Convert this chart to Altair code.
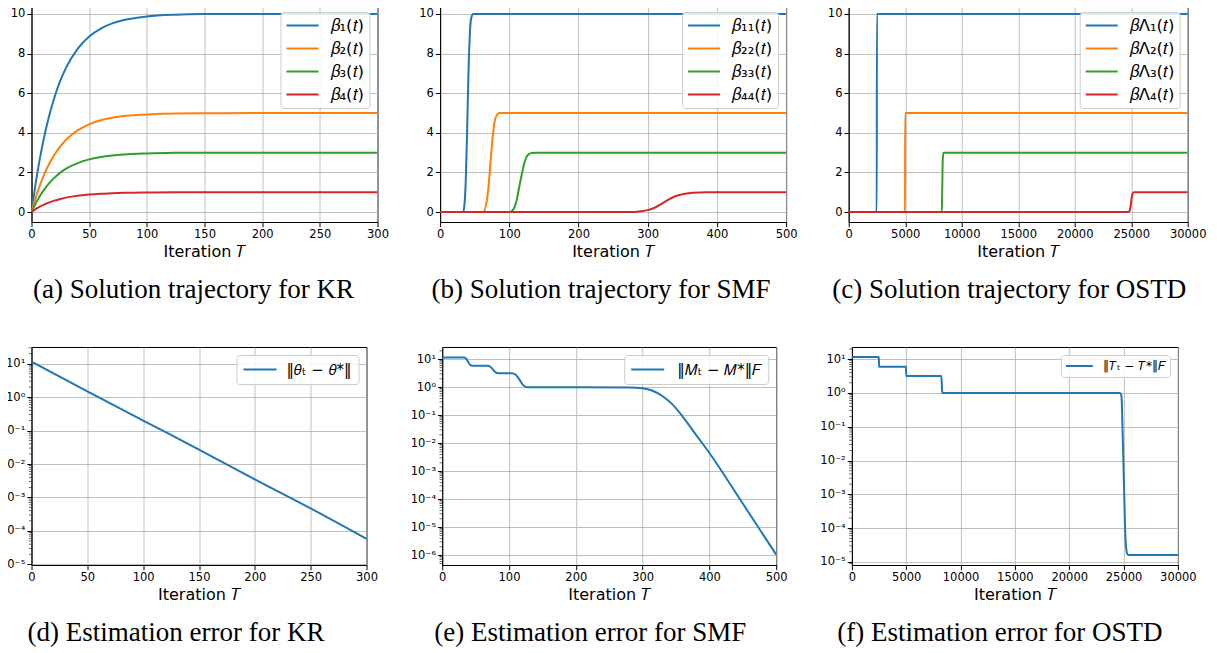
import altair as alt
import pandas as pd

BLUE, ORANGE, GREEN, RED = "#1f77b4", "#ff7f0e", "#2ca02c", "#d62728"

# ---------------- (a) Solution trajectory for KR ----------------
kr_T = [0, 5, 10, 15, 20, 25, 30, 40, 50, 60, 70, 80, 100, 125, 150, 200, 300]
kr_b1 = [0, 1.95, 3.53, 4.79, 5.81, 6.63, 7.29, 8.24, 8.86, 9.26, 9.52, 9.69, 9.87, 9.96, 9.99, 10.0, 10.0]
kr_b2 = [0, 0.98, 1.77, 2.40, 2.91, 3.32, 3.65, 4.12, 4.43, 4.63, 4.76, 4.85, 4.93, 4.98, 4.99, 5.0, 5.0]
kr_b3 = [0, 0.59, 1.06, 1.44, 1.74, 1.99, 2.19, 2.47, 2.66, 2.78, 2.86, 2.91, 2.96, 2.99, 3.0, 3.0, 3.0]
kr_b4 = [0, 0.20, 0.35, 0.48, 0.58, 0.66, 0.73, 0.82, 0.89, 0.93, 0.95, 0.97, 0.99, 1.0, 1.0, 1.0, 1.0]

# ---------------- (b) Solution trajectory for SMF ----------------
smf_T1 = [0, 33, 35, 37, 39, 41, 43, 45, 48, 500]
smf_b1 = [0, 0, 0.3, 1.5, 4.0, 7.0, 9.0, 9.8, 10, 10]
smf_T2 = [0, 62, 66, 70, 73, 76, 79, 82, 86, 500]
smf_b2 = [0, 0, 0.3, 1.3, 2.6, 3.8, 4.6, 4.9, 5.0, 5.0]
smf_T3 = [0, 100, 105, 110, 114, 118, 122, 126, 132, 140, 500]
smf_b3 = [0, 0, 0.1, 0.5, 1.2, 1.9, 2.5, 2.85, 2.98, 3.0, 3.0]
smf_T4 = [0, 260, 280, 290, 300, 310, 320, 330, 340, 350, 365, 385, 500]
smf_b4 = [0, 0, 0.01, 0.04, 0.1, 0.22, 0.42, 0.63, 0.8, 0.9, 0.97, 1.0, 1.0]

# ---------------- (c) Solution trajectory for OSTD ----------------
ostd_T1 = [0, 2480, 2500, 30000]
ostd_b1 = [0, 0, 10, 10]
ostd_T2 = [0, 4980, 5000, 30000]
ostd_b2 = [0, 0, 5, 5]
ostd_T3 = [0, 8240, 8280, 8320, 8380, 30000]
ostd_b3 = [0, 0, 1.2, 2.6, 3.0, 3.0]
ostd_T4 = [0, 24700, 24850, 24950, 25050, 25150, 25250, 30000]
ostd_b4 = [0, 0, 0.05, 0.3, 0.75, 0.97, 1.0, 1.0]

# ---------------- (d) Estimation error for KR ----------------
kre_T = [0, 50, 100, 150, 200, 250, 300]
kre_err = [11.6, 1.5, 0.2, 0.027, 0.0035, 0.00047, 0.000058]

# ---------------- (e) Estimation error for SMF ----------------
smfe_T = [0, 33, 36, 39, 42, 45, 68, 72, 76, 80, 84, 104, 110, 115, 120, 125, 130,
          280, 300, 315, 330, 345, 360, 380, 400, 450, 500]
smfe_err = [11.62, 11.6, 10.5, 8.0, 6.2, 5.92, 5.9, 5.4, 4.3, 3.4, 3.17, 3.15, 2.8, 2.0, 1.3, 1.03, 1.0,
            0.99, 0.92, 0.75, 0.48, 0.24, 0.09, 0.02, 0.0045, 0.00007, 0.00000105]

# ---------------- (f) Estimation error for OSTD ----------------
ostde_T = [0, 2480, 2500, 4980, 5000, 8230, 8300, 8350, 24600, 24750, 24820, 24900,
           24980, 25060, 25140, 25220, 25350, 25500, 30000]
ostde_err = [11.62, 11.62, 5.92, 5.92, 3.16, 3.16, 1.2, 1.0, 1.0, 0.95, 0.7, 0.1,
             0.01, 0.001, 0.0001, 0.00003, 0.000017, 0.000016, 0.000016]

# tick labels
lin_ticks = [0, 2, 4, 6, 8, 10]
kr_xticks = [0, 50, 100, 150, 200, 250, 300]
smf_xticks = [0, 100, 200, 300, 400, 500]
ostd_xticks = [0, 5000, 10000, 15000, 20000, 25000, 30000]
log_major_6 = [1e-6, 1e-5, 1e-4, 1e-3, 1e-2, 1e-1, 1, 10]
log_major_5 = [1e-5, 1e-4, 1e-3, 1e-2, 1e-1, 1, 10]
minor_mantissa = [2, 3, 4, 5, 6, 7, 8, 9]
minor_exponents = [-7, -6, -5, -4, -3, -2, -1, 0, 1]

LOG_LABEL = ("'10' + (datum.value < 0.5 ? '\u207b' : '') + "
             "['\u2070','\u00b9','\u00b2','\u00b3','\u2074','\u2075','\u2076']"
             "[abs(round(log(datum.value)/LN10))]")


def frame(series):
    rows = []
    for name, ts, vs in series:
        for t, v in zip(ts, vs):
            rows.append({"T": t, "v": v, "s": name})
    return pd.DataFrame(rows)


def panel(series, colors, xdom, xticks, ydom, yticks, log, caption, dx, width,
          lfont=16.5, llen=32, lpad=5, loff=11, lclip=17, lrow=6):
    df = frame(series)
    names = [s[0] for s in series]
    if log:
        yscale = alt.Scale(type="log", domain=ydom, nice=False)
        yaxis = alt.Axis(values=yticks, labelExpr=LOG_LABEL, title=None)
    else:
        yscale = alt.Scale(domain=ydom, nice=False, zero=False)
        yaxis = alt.Axis(values=yticks, format="d", title=None)
    line = alt.Chart(df).mark_line(strokeWidth=2, clip=True, interpolate="monotone").encode(
        x=alt.X("T:Q", scale=alt.Scale(domain=xdom, nice=False, zero=False),
                axis=alt.Axis(values=xticks, format="d", title="Iteration \U0001D447")),
        y=alt.Y("v:Q", scale=yscale, axis=yaxis),
        color=alt.Color("s:N", scale=alt.Scale(domain=names, range=colors),
                        legend=alt.Legend(title=None, orient="top-right", offset=8,
                                          fillColor="rgba(255,255,255,0.85)", strokeColor="#cccccc",
                                          cornerRadius=3, padding=lpad, symbolType="stroke",
                                          symbolStrokeWidth=2, symbolSize=llen * llen,
                                          clipHeight=lclip, rowPadding=lrow, labelOffset=loff,
                                          labelFontSize=lfont, labelFont="DejaVu Sans",
                                          labelColor="black")),
    )
    layers = [line]
    if log:
        lo, hi = ydom
        minors = [m * 10.0 ** e for e in minor_exponents for m in minor_mantissa
                  if lo <= m * 10.0 ** e <= hi]
        mdf = pd.DataFrame({"v": minors})
        layers.append(alt.Chart(mdf).mark_tick(color="black", thickness=0.8, size=2.7).encode(
            x=alt.value(-1.35),
            y=alt.Y("v:Q", scale=yscale, axis=yaxis)))
    return alt.layer(*layers).properties(
        width=width, height=218,
        title=alt.TitleParams(text=caption, orient="bottom", anchor="middle", dx=dx,
                              font="Liberation Serif", fontSize=27, fontWeight="normal",
                              color="black", offset=18),
    )


lin_dom = [-0.5, 10.5]

pa = panel([("\U0001D6FD\u2081(\U0001D461)", kr_T, kr_b1), ("\U0001D6FD\u2082(\U0001D461)", kr_T, kr_b2),
            ("\U0001D6FD\u2083(\U0001D461)", kr_T, kr_b3), ("\U0001D6FD\u2084(\U0001D461)", kr_T, kr_b4)],
           [BLUE, ORANGE, GREEN, RED], [0, 300], kr_xticks,
           lin_dom, lin_ticks, False, "(a) Solution trajectory for KR", -11, 346)
pb = panel([("\U0001D6FD\u2081\u2081(\U0001D461)", smf_T1, smf_b1), ("\U0001D6FD\u2082\u2082(\U0001D461)", smf_T2, smf_b2),
            ("\U0001D6FD\u2083\u2083(\U0001D461)", smf_T3, smf_b3), ("\U0001D6FD\u2084\u2084(\U0001D461)", smf_T4, smf_b4)],
           [BLUE, ORANGE, GREEN, RED], [0, 500], smf_xticks,
           lin_dom, lin_ticks, False, "(b) Solution trajectory for SMF", -12, 346)
pc = panel([("\U0001D6FD\u039b\u2081(\U0001D461)", ostd_T1, ostd_b1), ("\U0001D6FD\u039b\u2082(\U0001D461)", ostd_T2, ostd_b2),
            ("\U0001D6FD\u039b\u2083(\U0001D461)", ostd_T3, ostd_b3), ("\U0001D6FD\u039b\u2084(\U0001D461)", ostd_T4, ostd_b4)],
           [BLUE, ORANGE, GREEN, RED], [0, 30000], ostd_xticks,
           lin_dom, lin_ticks, False, "(c) Solution trajectory for OSTD", -9, 339)

pd_ = panel([("\u2016\U0001D703\u209c \u2212 \U0001D703*\u2016", kre_T, kre_err)], [BLUE],
            [0, 300], kr_xticks, [10 ** -5.02, 10 ** 1.5], log_major_5, True,
            "(d) Estimation error for KR", -23, 335, lfont=15, llen=33, lpad=6, loff=9, lclip=17, lrow=0)
pe = panel([("\u2016\U0001D440\u209c \u2212 \U0001D440*\u2016\U0001D439", smfe_T, smfe_err)], [BLUE],
           [0, 500], smf_xticks, [10 ** -6.35, 10 ** 1.44], log_major_6, True,
           "(e) Estimation error for SMF", -19, 334, lfont=15, llen=33, lpad=6, loff=12, lclip=17, lrow=0)
pf = panel([("\u2016\U0001D447\u209c \u2212 \U0001D447*\u2016\U0001D439", ostde_T, ostde_err)], [BLUE],
           [0, 30000], ostd_xticks, [10 ** -5.09, 10 ** 1.36], log_major_5, True,
           "(f) Estimation error for OSTD", -15, 326, lfont=12, llen=27, lpad=4, loff=9, lclip=14, lrow=0)

top = alt.hconcat(pa, pb, pc, spacing=62.6, bounds="flush").resolve_scale(
    color="independent").resolve_legend(color="independent")
bottom = alt.hconcat(pd_, pe, pf, spacing=75.7, bounds="flush").resolve_scale(
    color="independent").resolve_legend(color="independent")

chart = alt.vconcat(top, bottom, spacing=343, bounds="flush").resolve_scale(
    color="independent").resolve_legend(color="independent").properties(
    padding={"left": -9.5, "top": -5, "right": 0, "bottom": 0},
    background="white",
).configure_axis(
    domainColor="black", domainWidth=1, tickColor="black", tickSize=4.7, tickWidth=1,
    labelFont="DejaVu Sans", labelFontSize=11.5, labelColor="black", labelPadding=2,
    labelFlush=False, labelOverlap=False,
    titleFont="DejaVu Sans", titleFontSize=16, titleFontWeight="normal", titleColor="black",
    titlePadding=3, grid=True, gridColor="#b0b0b0", gridWidth=0.8,
).configure_view(stroke="black", strokeWidth=1)

chart.save("out.html", embed_options={"renderer": "svg", "actions": False})
